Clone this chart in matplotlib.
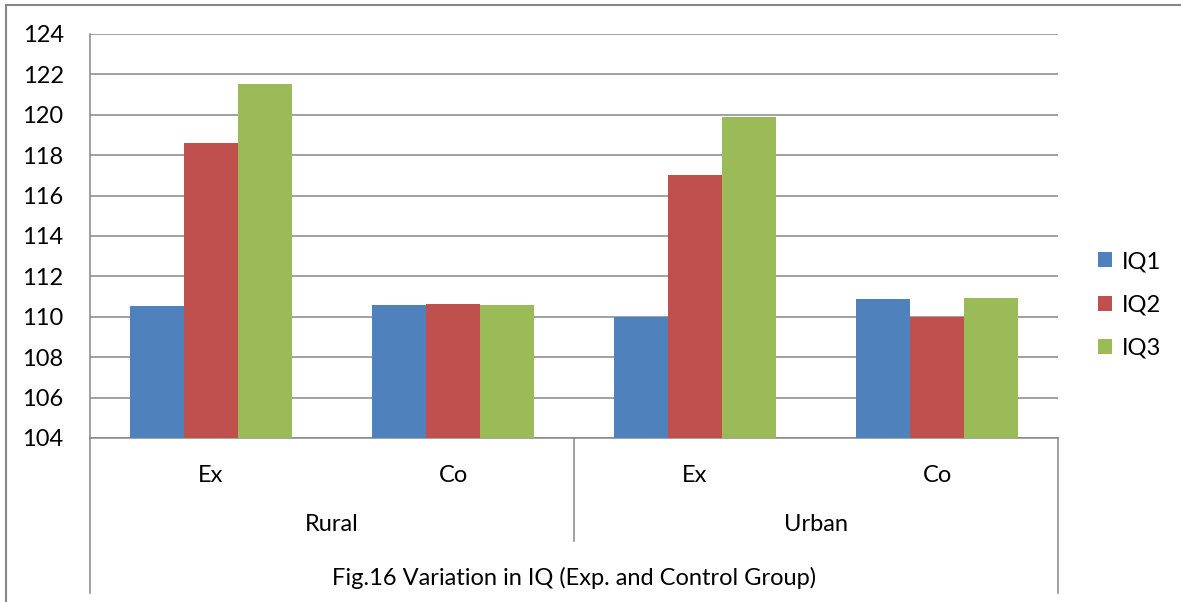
import matplotlib.pyplot as plt
from matplotlib.lines import Line2D
import numpy as np

plt.rcParams['font.family'] = ['Lato', 'DejaVu Sans']

groups = ['Ex', 'Co', 'Ex', 'Co']
areas = ['Rural', 'Urban']
series = ['IQ1', 'IQ2', 'IQ3']
iq1 = [110.55, 110.6, 110.0, 110.86]
iq2 = [118.58, 110.63, 117.0, 110.0]
iq3 = [121.5, 110.58, 119.88, 110.91]
colors = ['#4F81BD', '#C0504D', '#9BBB59']
title = 'Fig.16 Variation in IQ (Exp. and Control Group)'

W, H = 1181, 602
fig = plt.figure(figsize=(W / 100, H / 100), dpi=100)
ax = fig.add_axes([90 / W, (H - 438) / H, 968 / W, 404 / H])

x = np.arange(len(groups))
w = 1 / 1.5 / 3
for i, vals in enumerate([iq1, iq2, iq3]):
    v = np.array(vals)
    ax.bar(x + (i - 1) * w, v - 104, w, bottom=104, color=colors[i],
           label=series[i], zorder=3, linewidth=0)

gc = '#878787'
fs = 17
ax.set_xlim(-0.5, 3.5)
ax.set_ylim(104, 124)
ax.set_yticks(range(104, 125, 2))
ax.yaxis.grid(True, color=gc, linewidth=1.1, zorder=0)
ax.set_xticks([])
ax.tick_params(axis='y', length=0, pad=19, labelsize=fs)
for s in ['top', 'right']:
    ax.spines[s].set_visible(False)
for s in ['left', 'bottom']:
    ax.spines[s].set_color(gc)
    ax.spines[s].set_linewidth(1.1)

# multi-level category axis
tr = ax.get_xaxis_transform()
ax.plot([-0.5, -0.5], [0, -0.384], color=gc, lw=1.1, transform=tr, clip_on=False)
ax.plot([3.5, 3.5], [0, -0.384], color=gc, lw=1.1, transform=tr, clip_on=False)
ax.plot([1.5, 1.5], [0, -0.255], color=gc, lw=1.1, transform=tr, clip_on=False)
for xi, g in zip(x, groups):
    ax.text(xi, -0.092, g, transform=tr, ha='center', va='center', fontsize=fs)
for j, a in enumerate(areas):
    ax.text(2 * j + 0.5, -0.215, a, transform=tr, ha='center', va='center', fontsize=fs)
ax.text(1.5, -0.347, title, transform=tr, ha='center', va='center', fontsize=fs)

ax.legend(loc='center left', bbox_to_anchor=(1098 / W, 1 - 305 / H),
          bbox_transform=fig.transFigure, frameon=False, fontsize=fs,
          handlelength=0.6, handleheight=0.6, handletextpad=0.4,
          labelspacing=0.95, borderaxespad=0, borderpad=0)

# outer chart border
fig.add_artist(Line2D([6 / W, 1], [1 - 5 / H, 1 - 5 / H], color=gc, lw=1.5))
fig.add_artist(Line2D([6 / W, 6 / W], [0, 1 - 5 / H], color=gc, lw=1.5))

fig.savefig('out.png', dpi=100)
